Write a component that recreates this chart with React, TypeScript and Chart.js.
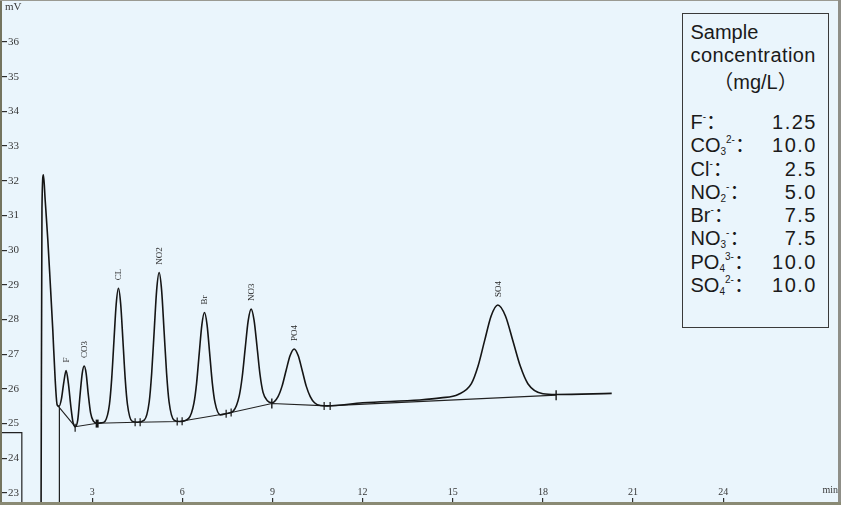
import React, { useEffect, useRef } from "react";
import { Chart, registerables } from "chart.js";

Chart.register(...registerables);

// ---------- data ----------
const signalTimes = [
  1.30, 1.33, 1.379, 1.436, 1.525, 1.60, 1.69, 1.77, 1.835,
  1.90, 1.98, 2.05, 2.134, 2.21, 2.29, 2.36, 2.434,
  2.52, 2.60, 2.67, 2.734, 2.80, 2.87, 2.95, 3.04, 3.166, 3.30,
  3.43, 3.575, 3.65, 3.725, 3.80, 3.875, 3.95, 4.025, 4.10, 4.175, 4.325, 4.50,
  4.734, 4.899, 4.981, 5.064, 5.146, 5.229, 5.312, 5.394, 5.477, 5.559, 5.724, 5.91,
  6.212, 6.387, 6.475, 6.562, 6.65, 6.737, 6.825, 6.912, 7.0, 7.087, 7.262, 7.48,
  7.697, 7.895, 7.994, 8.093, 8.192, 8.291, 8.39, 8.489, 8.588, 8.687, 8.83, 8.979,
  9.186, 9.32, 9.454, 9.588, 9.722, 9.856, 9.99, 10.124, 10.258, 10.40, 10.60, 10.82,
  12.0, 13.9, 14.6, 15.18,
  15.62, 15.84, 16.06, 16.28, 16.50, 16.75, 17.0, 17.25, 17.5, 18.0, 18.44, 20.29,
];
const signalValues = [
  22.5, 31.2, 32.17, 31.45, 30.29, 29.14, 27.7, 26.26, 25.54,
  25.50, 25.72, 26.15, 26.53, 26.15, 25.50, 25.05, 24.91,
  25.10, 25.85, 26.45, 26.66, 26.45, 25.85, 25.30, 25.07, 25.01, 25.02,
  25.07, 25.55, 26.29, 27.38, 28.44, 28.90, 28.44, 27.38, 26.29, 25.55, 25.07, 25.04,
  25.10, 25.63, 26.45, 27.66, 28.84, 29.35, 28.84, 27.66, 26.45, 25.63, 25.10, 25.06,
  25.15, 25.59, 26.16, 27.01, 27.84, 28.20, 27.84, 27.01, 26.16, 25.61, 25.25, 25.29,
  25.36, 25.80, 26.35, 27.17, 27.96, 28.30, 27.97, 27.20, 26.40, 25.90, 25.66, 25.60,
  25.78, 26.08, 26.53, 26.96, 27.15, 26.96, 26.53, 26.08, 25.78, 25.60, 25.52, 25.51,
  25.60, 25.68, 25.74, 25.84,
  26.15, 26.65, 27.39, 28.11, 28.42, 28.11, 27.39, 26.65, 26.15, 25.86, 25.84, 25.87,
];

const baselineTimes = [1.835, 2.434, 3.166, 4.487, 5.905, 7.482, 8.979, 10.82, 18.44];
const baselineValues = [25.54, 24.91, 25.01, 25.04, 25.06, 25.29, 25.58, 25.51, 25.82];

const markerTimes = [2.434, 3.166, 4.43, 4.597, 5.83, 5.994, 7.459, 7.625, 8.979, 10.72, 10.92, 18.44];
const markerValues = [24.88, 25.0, 25.04, 25.04, 25.06, 25.07, 25.28, 25.32, 25.58, 25.51, 25.51, 25.82];
const markerWidths = [1.2, 3, 1.2, 1.2, 1.2, 1.2, 1.2, 1.2, 1.4, 1.2, 1.2, 1.4];
const markerSizes = [4, 4, 4, 4, 4, 4, 4, 4, 5, 4, 4, 5];

const stepTimes = [0, 0.66, 0.66];
const stepValues = [24.74, 24.74, 22.0];
const eventTimes = [1.911, 1.911];
const eventValues = [25.48, 22.0];

const peakNames = ["F", "CO3", "CL", "NO2", "Br", "NO3", "PO4", "SO4"];
const peakTimes = [2.134, 2.734, 3.875, 5.229, 6.737, 8.291, 9.722, 16.5];
const peakValues = [26.53, 26.66, 28.9, 29.35, 28.2, 28.3, 27.15, 28.42];

const xTickValues = [3, 6, 9, 12, 15, 18, 21, 24];
const yTickValues = [23, 24, 25, 26, 27, 28, 29, 30, 31, 32, 33, 34, 35, 36];
const X_MIN = 0;
const X_MAX = 27.82;
const Y_MIN = 22.74;
const Y_MAX = 37.18;
const X_UNIT = "min";
const Y_UNIT = "mV";

const legendTitleLines = ["Sample", "concentration", "（mg/L）"];
const ionBases = ["F", "CO", "Cl", "NO", "Br", "NO", "PO", "SO"];
const ionSubs = ["", "3", "", "2", "", "3", "4", "4"];
const ionSups = ["-", "2-", "-", "-", "-", "-", "3-", "2-"];
const concentrations = ["1.25", "10.0", "2.5", "5.0", "7.5", "7.5", "10.0", "10.0"];

// ---------- styles ----------
const BG = "rgb(234,245,252)";
const INK = "#151515";
const AXIS_TEXT = "#383838";
const SERIF = '"Liberation Serif", "DejaVu Serif", serif';
const SANS = '"Liberation Sans", Arial, "Noto Sans CJK SC", sans-serif';

const pts = (xs: number[], ys: number[]) => xs.map((x, i) => ({ x, y: ys[i] }));

const framePlugin = {
  id: "frameAndLabels",
  beforeDraw(chart: any) {
    const { ctx, width, height } = chart;
    ctx.save();
    ctx.fillStyle = BG;
    ctx.fillRect(0, 0, width, height);
    ctx.restore();
  },
  afterDraw(chart: any) {
    const { ctx, width, height, chartArea } = chart;
    const xs = chart.scales.x;
    const ys = chart.scales.y;
    ctx.save();
    // peak names, rotated
    ctx.font = `9px ${SERIF}`;
    ctx.fillStyle = "#2a2a2a";
    ctx.textAlign = "left";
    ctx.textBaseline = "middle";
    peakNames.forEach((name, i) => {
      const x = xs.getPixelForValue(peakTimes[i]);
      const y = ys.getPixelForValue(peakValues[i]) - 8;
      ctx.save();
      ctx.translate(x + 0.5, y);
      ctx.rotate(-Math.PI / 2);
      ctx.fillText(name, 0, 0);
      ctx.restore();
    });
    // unit of the y axis
    ctx.font = `11px ${SERIF}`;
    ctx.fillStyle = AXIS_TEXT;
    ctx.fillText(Y_UNIT, chartArea.left + 3, chartArea.top + 6);
    // frame
    ctx.fillStyle = "#74745f";
    ctx.fillRect(0, 0, chartArea.left, height);
    ctx.fillStyle = "#9a9a92";
    ctx.fillRect(0, 0, width, chartArea.top);
    ctx.fillStyle = "#8f8f88";
    ctx.fillRect(chartArea.right, 0, width - chartArea.right, height);
    ctx.fillStyle = "#8a8a74";
    ctx.fillRect(0, chartArea.bottom, width, height - chartArea.bottom);
    ctx.restore();
  },
};

function ChartCanvas() {
  const ref = useRef<HTMLCanvasElement | null>(null);
  useEffect(() => {
    if (!ref.current) return;
    const chart = new Chart(ref.current, {
      type: "line",
      data: {
        datasets: [
          {
            data: pts(signalTimes, signalValues),
            borderColor: INK,
            borderWidth: 1.6,
            pointRadius: 0,
            cubicInterpolationMode: "monotone",
            fill: false,
          },
          {
            data: pts(baselineTimes, baselineValues),
            borderColor: "#222",
            borderWidth: 1.1,
            pointRadius: 0,
            tension: 0,
            fill: false,
          },
          {
            data: pts(markerTimes, markerValues),
            showLine: false,
            pointStyle: "line",
            pointRotation: 90,
            pointRadius: markerSizes,
            pointBorderWidth: markerWidths,
            pointBorderColor: INK,
            pointBackgroundColor: INK,
          },
          {
            data: pts(stepTimes, stepValues),
            borderColor: "#222",
            borderWidth: 1.2,
            pointRadius: 0,
            tension: 0,
          },
          {
            data: pts(eventTimes, eventValues),
            borderColor: "#222",
            borderWidth: 1,
            pointRadius: 0,
            tension: 0,
          },
        ] as any,
      },
      options: {
        animation: false,
        responsive: false,
        maintainAspectRatio: false,
        devicePixelRatio: 1,
        events: [],
        layout: { autoPadding: false, padding: { left: 0, right: 3, top: 1, bottom: 0 } },
        plugins: { legend: { display: false }, tooltip: { enabled: false } },
        scales: {
          x: {
            type: "linear",
            position: "bottom",
            min: X_MIN,
            max: X_MAX,
            bounds: "data",
            afterBuildTicks: (s: any) => {
              s.ticks = xTickValues.map((v) => ({ value: v }));
            },
            afterFit: (s: any) => {
              s.height = 3;
              s.paddingLeft = 0;
              s.paddingRight = 0;
              s.paddingTop = 0;
              s.paddingBottom = 0;
            },
            grid: {
              display: true,
              drawOnChartArea: false,
              drawTicks: true,
              tickLength: -4,
              color: "#2e2e2e",
              lineWidth: 1.2,
            },
            border: { display: false },
            ticks: {
              mirror: true,
              padding: 4,
              color: AXIS_TEXT,
              font: { family: SERIF, size: 10 },
              maxRotation: 0,
              autoSkip: false,
              callback: (v: any) => String(v),
            },
            title: {
              display: true,
              text: X_UNIT,
              align: "end",
              color: AXIS_TEXT,
              font: { family: SERIF, size: 10 },
              padding: { top: 0, bottom: 9 },
            },
          },
          y: {
            type: "linear",
            position: "left",
            min: Y_MIN,
            max: Y_MAX,
            bounds: "data",
            afterBuildTicks: (s: any) => {
              s.ticks = yTickValues.map((v) => ({ value: v }));
            },
            afterFit: (s: any) => {
              s.width = 2;
              s.paddingLeft = 0;
              s.paddingRight = 0;
              s.paddingTop = 0;
              s.paddingBottom = 0;
            },
            grid: {
              display: true,
              drawOnChartArea: false,
              drawTicks: true,
              tickLength: -5,
              color: "#2e2e2e",
              lineWidth: 1.2,
            },
            border: { display: false },
            ticks: {
              mirror: true,
              padding: 6,
              color: AXIS_TEXT,
              font: { family: SERIF, size: 11 },
              autoSkip: false,
              callback: (v: any) => String(v),
            },
          },
        },
      } as any,
      plugins: [framePlugin],
    });
    return () => chart.destroy();
  }, []);
  return (
    <canvas
      ref={ref}
      width={841}
      height={505}
      style={{ position: "absolute", left: 0, top: 0, width: 841, height: 505 }}
    />
  );
}

function Legend() {
  const rowTop0 = 96.9;
  const rowStep = 23.3;
  const titleTops = [6.9, 29.9, 56.9];
  return (
    <div
      style={{
        position: "absolute",
        left: 682,
        top: 13,
        width: 147,
        height: 315,
        boxSizing: "border-box",
        border: "1.5px solid #3a3a3a",
        background: BG,
        fontFamily: SANS,
        fontSize: 20,
        color: "#1a1a1a",
      }}
    >
      {legendTitleLines.map((t, i) => (
        <div
          key={"t" + i}
          style={{
            position: "absolute",
            left: i === 2 ? 0 : 7.5,
            right: i === 2 ? 0 : undefined,
            textAlign: i === 2 ? "center" : "left",
            top: titleTops[i],
            height: 23.3,
            lineHeight: "23.3px",
            whiteSpace: "nowrap",
            letterSpacing: i === 1 ? 0.4 : 0,
          }}
        >
          {t}
        </div>
      ))}
      {ionBases.map((b, i) => (
        <div
          key={"r" + i}
          style={{
            position: "absolute",
            left: 7.5,
            right: 11,
            top: rowTop0 + rowStep * i,
            height: rowStep,
            lineHeight: rowStep + "px",
            display: "flex",
            justifyContent: "space-between",
            whiteSpace: "nowrap",
          }}
        >
          <span>
            {b}
            {ionSubs[i] ? (
              <span style={{ fontSize: 10, position: "relative", top: 3, lineHeight: 0 }}>{ionSubs[i]}</span>
            ) : null}
            <span style={{ fontSize: 10, position: "relative", top: -9, lineHeight: 0 }}>{ionSups[i]}</span>
            <span>：</span>
          </span>
          <span style={{ letterSpacing: 1.5 }}>{concentrations[i]}</span>
        </div>
      ))}
    </div>
  );
}

export default function App() {
  return (
    <div style={{ position: "fixed", left: 0, top: 0, width: 841, height: 505, overflow: "hidden", background: BG }}>
      <ChartCanvas />
      <Legend />
    </div>
  );
}
